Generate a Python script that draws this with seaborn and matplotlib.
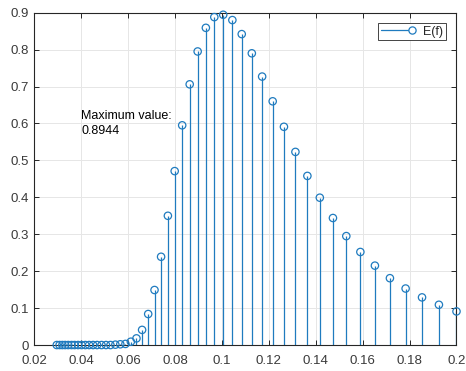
import matplotlib
matplotlib.use("Agg")
import matplotlib.pyplot as plt
from matplotlib.lines import Line2D
from matplotlib.legend_handler import HandlerLine2D
import seaborn as sns

# frequencies (log spaced) and the energy values
freq = [0.0295, 0.0307, 0.0319, 0.0331, 0.0344, 0.0358, 0.0371, 0.0386, 0.0401, 0.0417,
        0.0433, 0.0450, 0.0467, 0.0486, 0.0505, 0.0524, 0.0545, 0.0566, 0.0588, 0.0611,
        0.0635, 0.0659, 0.0685, 0.0712, 0.0740, 0.0769, 0.0798, 0.0830, 0.0862, 0.0896,
        0.0931, 0.0967, 0.1005, 0.1044, 0.1084, 0.1127, 0.1171, 0.1216, 0.1264, 0.1313,
        0.1364, 0.1417, 0.1473, 0.1530, 0.1590, 0.1652, 0.1716, 0.1783, 0.1853, 0.1925,
        0.2000]
energy = [0, 0, 0, 0, 0, 0, 0, 0, 0, 0,
          0, 0, 0, 0, 0, 0, 0.001, 0.002, 0.003, 0.009,
          0.018, 0.041, 0.084, 0.149, 0.239, 0.350, 0.471, 0.595, 0.706, 0.795,
          0.859, 0.888, 0.8944, 0.880, 0.842, 0.790, 0.727, 0.660, 0.591, 0.523,
          0.458, 0.399, 0.344, 0.295, 0.252, 0.215, 0.181, 0.153, 0.129, 0.109,
          0.091]

xticks = [0.02, 0.04, 0.06, 0.08, 0.1, 0.12, 0.14, 0.16, 0.18, 0.2]
xtick_labels = ['0.02', '0.04', '0.06', '0.08', '0.1', '0.12', '0.14', '0.16', '0.18', '0.2']
yticks = [0, 0.1, 0.2, 0.3, 0.4, 0.5, 0.6, 0.7, 0.8, 0.9]
ytick_labels = ['0', '0.1', '0.2', '0.3', '0.4', '0.5', '0.6', '0.7', '0.8', '0.9']

BLUE = '#1f7bbf'
DARK = '#262626'


class StemLegend(HandlerLine2D):
    """ legend entry like matlab stem: line with the marker at its right end """
    def create_artists(self, legend, orig_handle, xdescent, ydescent,
                       width, height, fontsize, trans):
        y = (height - ydescent) / 2
        line = Line2D([-xdescent, width - xdescent], [y, y],
                      color=orig_handle.get_color(),
                      linewidth=orig_handle.get_linewidth())
        mark = Line2D([width - xdescent], [y], linestyle='none', marker='o',
                      markersize=orig_handle.get_markersize(),
                      markerfacecolor='white',
                      markeredgecolor=orig_handle.get_color(),
                      markeredgewidth=orig_handle.get_linewidth())
        line.set_transform(trans)
        mark.set_transform(trans)
        return [line, mark]


sns.set_style("whitegrid")
plt.rcParams['font.family'] = ['Liberation Sans', 'DejaVu Sans']

fig = plt.figure(figsize=(4.66, 3.71), dpi=100)
ax = fig.add_axes([0.074, 0.070, 0.9056, 0.8958])

ax.vlines(freq, 0, energy, color=BLUE, linewidth=0.9, zorder=2)
sns.scatterplot(x=freq, y=energy, ax=ax, marker='o', s=28, color=BLUE,
                facecolor='none', edgecolor=BLUE, linewidth=0.9, zorder=3,
                legend=False, clip_on=False)

ax.set_xlim(0.02, 0.2)
ax.set_ylim(0, 0.9)
ax.set_xticks(xticks)
ax.set_xticklabels(xtick_labels)
ax.set_yticks(yticks)
ax.set_yticklabels(ytick_labels)

ax.grid(True, color='#e6e6e6', linewidth=0.7)
ax.set_axisbelow(True)
for s in ax.spines.values():
    s.set_visible(True)
    s.set_color(DARK)
    s.set_linewidth(0.8)
ax.tick_params(direction='in', length=3.5, width=0.7, color=DARK,
               labelsize=9.5, labelcolor='#3a3a3a', top=True, right=True,
               bottom=True, left=True)
ax.tick_params(axis='x', pad=7)
ax.tick_params(axis='y', pad=4)

ax.text(0.04, 0.6, 'Maximum value:\n0.8944', fontsize=9, color='black',
        ha='left', va='center', linespacing=1.25)

h = Line2D([], [], color=BLUE, linewidth=0.9, marker='o', markersize=5.2,
           markerfacecolor='none', markeredgecolor=BLUE)
leg = ax.legend([h], ['E(f)'], loc='upper right', fontsize=9,
                handler_map={Line2D: StemLegend()}, handlelength=2.5,
                fancybox=False, framealpha=1, edgecolor=DARK,
                borderaxespad=0.85, borderpad=0.2, handletextpad=0.9)
leg.get_frame().set_linewidth(0.6)

fig.savefig('out.png', dpi=100, facecolor='white')
